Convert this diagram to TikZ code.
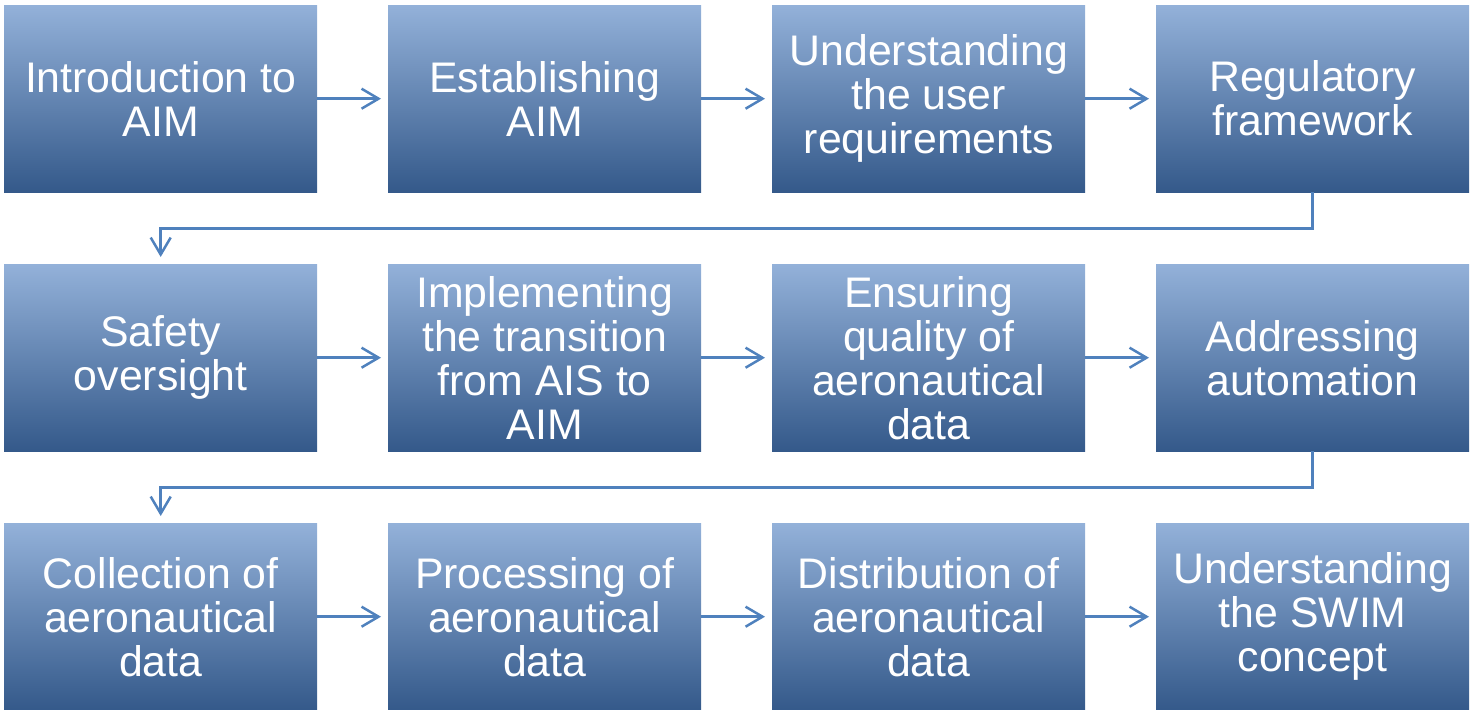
\documentclass[tikz,border=0pt]{standalone}
\usepackage{fontspec}
\setmainfont{Liberation Sans}
\usetikzlibrary{arrows.meta}
\definecolor{gtop}{HTML}{93B1D9}
\definecolor{gmid}{HTML}{4F81BD}
\definecolor{gbot}{HTML}{34598A}
\definecolor{lineblue}{HTML}{4F81BD}
\tikzset{
  stepbox/.style={rectangle, anchor=north west, minimum width=313pt, minimum height=187pt,
    inner sep=0pt, top color=gtop, middle color=gmid, bottom color=gbot,
    text=white, align=center, font=\fontsize{42.8}{44}\selectfont},
  conn/.style={draw=lineblue, line width=2.5pt, shorten >=7pt,
    -{Straight Barb[length=17pt,width=20pt]}}
}
\begin{document}
\begin{tikzpicture}[x=1pt,y=-1pt]
\useasboundingbox (0,0) rectangle (1471,709);
\node[stepbox] (b1) at (4,5) {Introduction to\\AIM};
\node[stepbox] (b2) at (388,5) {Establishing\\AIM};
\node[stepbox] (b3) at (772,5) {Understanding\\the user\\requirements};
\node[stepbox] (b4) at (1156,5) {Regulatory\\framework};
\node[stepbox] (b5) at (4,264) {Safety\\oversight};
\node[stepbox] (b6) at (388,264) {Implementing\\the transition\\from AIS to\\AIM};
\node[stepbox] (b7) at (772,264) {Ensuring\\quality of\\aeronautical\\data};
\node[stepbox] (b8) at (1156,264) {Addressing\\automation};
\node[stepbox] (b9) at (4,523) {Collection of\\aeronautical\\data};
\node[stepbox] (b10) at (388,523) {Processing of\\aeronautical\\data};
\node[stepbox] (b11) at (772,523) {Distribution of\\aeronautical\\data};
\node[stepbox] (b12) at (1156,523) {Understanding\\the SWIM\\concept};
\draw[conn] (b1) -- (b2);
\draw[conn] (b2) -- (b3);
\draw[conn] (b3) -- (b4);
\draw[conn] (b4.south) -- ++(0,36) -| (b5.north);
\draw[conn] (b5) -- (b6);
\draw[conn] (b6) -- (b7);
\draw[conn] (b7) -- (b8);
\draw[conn] (b8.south) -- ++(0,36) -| (b9.north);
\draw[conn] (b9) -- (b10);
\draw[conn] (b10) -- (b11);
\draw[conn] (b11) -- (b12);
\end{tikzpicture}
\end{document}
